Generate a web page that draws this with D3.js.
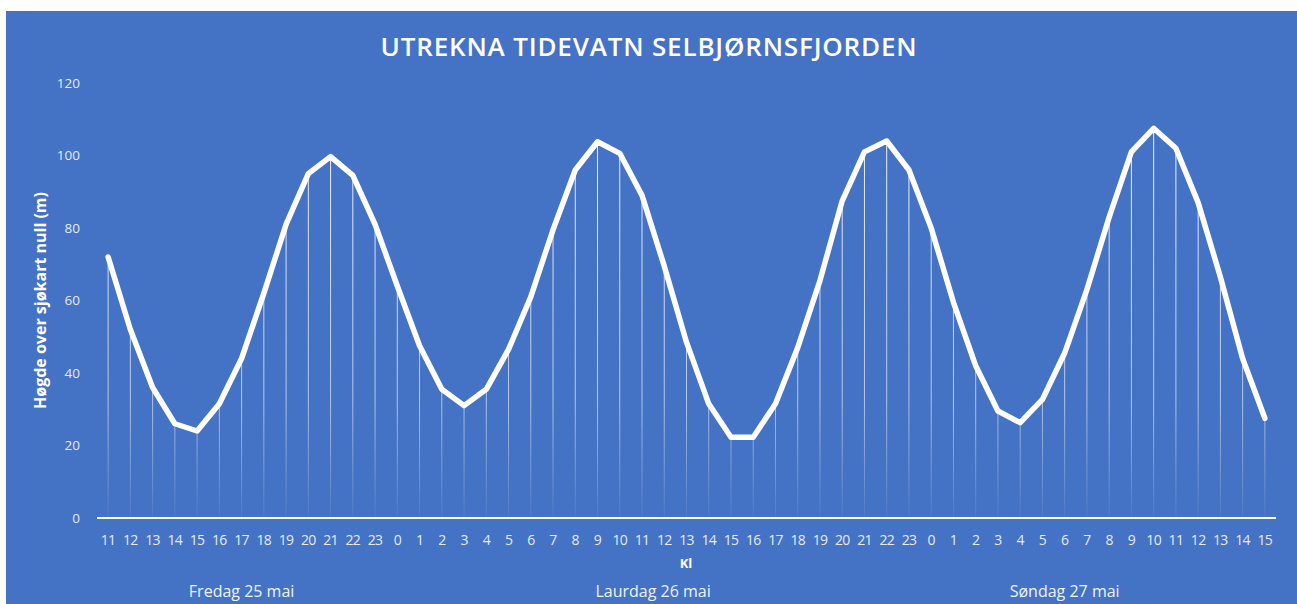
<!DOCTYPE html>
<meta charset="utf-8">
<style>
body { margin: 0; background: #fff; }
text { font-family: "Open Sans", sans-serif; }
</style>
<svg width="1297" height="604"></svg>
<script src="https://cdn.jsdelivr.net/npm/d3@7"></script>
<script>

// timar (kl) frå fredag 11 til søndag 15
var hours = ["11","12","13","14","15","16","17","18","19","20","21","22","23",
  "0","1","2","3","4","5","6","7","8","9","10","11","12","13","14","15","16","17","18","19","20","21","22","23",
  "0","1","2","3","4","5","6","7","8","9","10","11","12","13","14","15"];

var heights = [72, 52, 36, 26, 24, 31.5, 44, 62, 81, 95, 99.7, 94.5, 81,
  64, 47.5, 35.5, 31, 35.5, 46.5, 61, 79.5, 96, 103.8, 100.6, 89, 69.5, 48.5, 31.5, 22.3, 22.3, 31.5, 47, 65.5, 87.5, 101, 104, 96,
  80, 59.5, 42, 29.5, 26.3, 32.7, 45.5, 63, 83, 101, 107.5, 102, 87, 66.5, 44, 27.5];

var days = ["Fredag 25 mai", "Laurdag 26 mai", "Søndag 27 mai"];
var dayAnchor = [6, 24.5, 43];   // kategori-indeks der etiketten står

var yTicks = [0, 20, 40, 60, 80, 100, 120];

var svg = d3.select("svg");

svg.append("rect")
    .attr("x", 6).attr("y", 11)
    .attr("width", 1291).attr("height", 593)
    .attr("fill", "#4472C4");

var margin = {top: 83, left: 97, right: 21, bottom: 86},
    width = 1297 - margin.left - margin.right,
    height = 604 - margin.top - margin.bottom;

var g = svg.append("g").attr("transform", "translate(" + margin.left + "," + margin.top + ")");

var x = d3.scaleBand().domain(d3.range(hours.length)).range([0, width]);
var y = d3.scaleLinear().domain([0, 120]).range([height, 0]);

var defs = svg.append("defs");
var grad = defs.append("linearGradient")
    .attr("id", "drop")
    .attr("gradientUnits", "userSpaceOnUse")
    .attr("x1", 0).attr("x2", 0)
    .attr("y1", y(110)).attr("y2", y(0));
grad.append("stop").attr("offset", "0%").attr("stop-color", "#fff").attr("stop-opacity", 0.95);
grad.append("stop").attr("offset", "70%").attr("stop-color", "#fff").attr("stop-opacity", 0.6);
grad.append("stop").attr("offset", "100%").attr("stop-color", "#fff").attr("stop-opacity", 0.05);

var cx = function(i) { return x(i) + x.bandwidth() / 2; };

// title
var title = svg.append("text")
    .attr("x", 649).attr("y", 56)
    .attr("text-anchor", "middle")
    .attr("fill", "#fff")
    .style("font-size", "26px")
    .style("font-weight", 600)
    .text("UTREKNA TIDEVATN SELBJØRNSFJORDEN");
var tl = title.node().getComputedTextLength();
title.style("letter-spacing", ((536 - tl) / 32) + "px");

// y ticks
g.selectAll(".ytick")
  .data(yTicks)
  .enter().append("text")
    .attr("class", "ytick")
    .attr("x", -17)
    .attr("y", function(d) { return y(d); })
    .attr("dy", "0.35em")
    .attr("text-anchor", "end")
    .attr("fill", "#e6ebf5")
    .style("font-size", "13.5px")
    .text(function(d) { return d; });

svg.append("text")
    .attr("transform", "translate(46," + (margin.top + y(60)) + ") rotate(-90)")
    .attr("text-anchor", "middle")
    .attr("fill", "#fff")
    .style("font-size", "16px")
    .style("font-weight", 700)
    .text("Høgde over sjøkart null (m)");

// drop lines
g.selectAll(".drop")
  .data(heights)
  .enter().append("line")
    .attr("class", "drop")
    .attr("x1", function(d, i) { return cx(i); })
    .attr("x2", function(d, i) { return cx(i); })
    .attr("y1", function(d) { return y(d); })
    .attr("y2", y(0))
    .attr("stroke", "url(#drop)")
    .attr("stroke-width", 1);

// axis line
g.append("line")
    .attr("x1", 0).attr("x2", width)
    .attr("y1", y(0)).attr("y2", y(0))
    .attr("stroke", "#fff")
    .attr("stroke-width", 2);

// series line
var line = d3.line()
    .x(function(d, i) { return cx(i); })
    .y(function(d) { return y(d); });

g.append("path")
    .datum(heights)
    .attr("d", line)
    .attr("fill", "none")
    .attr("stroke", "#fff")
    .attr("stroke-width", 5.5)
    .attr("stroke-linejoin", "round")
    .attr("stroke-linecap", "round");

// x tick labels
g.selectAll(".xtick")
  .data(hours)
  .enter().append("text")
    .attr("class", "xtick")
    .attr("x", function(d, i) { return cx(i); })
    .attr("y", y(0) + 27)
    .attr("text-anchor", "middle")
    .attr("fill", "#e6ebf5")
    .style("font-size", "14px")
    .style("letter-spacing", "-0.7px")
    .text(function(d) { return d; });

g.append("text")
    .attr("x", 589)
    .attr("y", y(0) + 50)
    .attr("text-anchor", "middle")
    .attr("fill", "#fff")
    .style("font-size", "13px")
    .style("font-weight", 700)
    .text("Kl");

g.selectAll(".day")
  .data(days)
  .enter().append("text")
    .attr("class", "day")
    .attr("x", function(d, i) { return cx(0) + dayAnchor[i] * x.step(); })
    .attr("y", y(0) + 79)
    .attr("text-anchor", "middle")
    .attr("fill", "#eef2fa")
    .style("font-size", "16px")
    .text(function(d) { return d; });

</script>
